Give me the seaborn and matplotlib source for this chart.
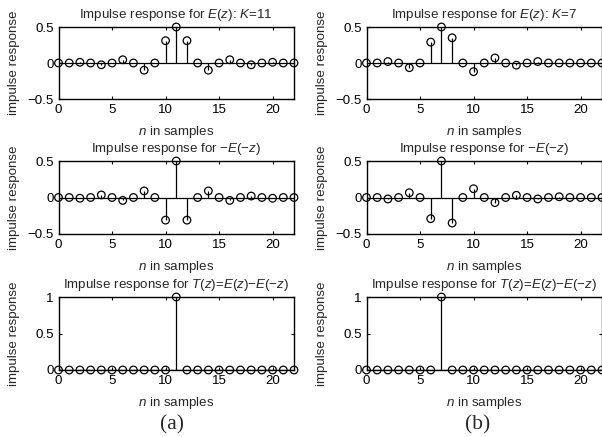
import numpy as np
import pandas as pd
import matplotlib
matplotlib.use("Agg")
import matplotlib.pyplot as plt
import seaborn as sns

# sample index
n = list(range(23))

# (a) K=11
e_a = [0, 0, 0.01, 0, -0.025, 0, 0.045, 0, -0.10, 0, 0.31, 0.5, 0.31,
       0, -0.10, 0, 0.045, 0, -0.025, 0, 0.01, 0, 0]
me_a = [0, 0, -0.01, 0, 0.035, 0, -0.04, 0, 0.09, 0, -0.31, 0.5, -0.31,
        0, 0.09, 0, -0.04, 0, 0.02, 0, -0.01, 0, 0]
t_a = [0, 0, 0, 0, 0, 0, 0, 0, 0, 0, 0, 1, 0, 0, 0, 0, 0, 0, 0, 0, 0, 0, 0]

# (b) K=7
e_b = [0, 0, 0.02, 0, -0.065, 0, 0.29, 0.5, 0.35, 0, -0.12, 0, 0.07,
       0, -0.03, 0, 0.02, 0, 0, 0, 0, 0, 0]
me_b = [0, 0, -0.02, 0, 0.065, 0, -0.29, 0.5, -0.35, 0, 0.12, 0, -0.07,
        0, 0.03, 0, -0.02, 0, 0.01, 0, 0, 0, 0]
t_b = [0, 0, 0, 0, 0, 0, 0, 1, 0, 0, 0, 0, 0, 0, 0, 0, 0, 0, 0, 0, 0, 0, 0]

titles_a = [r"Impulse response for $E$($z$): $K$=11",
            r"Impulse response for −$E$(−$z$)",
            r"Impulse response for $T$($z$)=$E$($z$)−$E$(−$z$)"]
titles_b = [r"Impulse response for $E$($z$): $K$=7",
            r"Impulse response for −$E$(−$z$)",
            r"Impulse response for $T$($z$)=$E$($z$)−$E$(−$z$)"]

sns.set_theme(style="ticks")
plt.rcParams["font.family"] = ["Liberation Sans", "DejaVu Sans"]
plt.rcParams["mathtext.fontset"] = "custom"
plt.rcParams["mathtext.rm"] = "Liberation Sans"
plt.rcParams["mathtext.it"] = "Liberation Sans:italic"
plt.rcParams["axes.unicode_minus"] = True

W, H = 602, 437
fig = plt.figure(figsize=(W / 100, H / 100), dpi=100)
fig.patch.set_facecolor("white")

FS = 9.6
lefts = [58.5, 366.5]
width = 235.5
rows = [(27, 99), (161, 234), (297, 370)]


def stem_panel(ax, values, title, third, hgt):
    df = pd.DataFrame({"n": n, "h": values})
    ax.axhline(0, color="black", lw=0.9, zorder=1)
    ax.vlines(df["n"], 0, df["h"], color="black", lw=0.9, zorder=2)
    sns.scatterplot(data=df, x="n", y="h", ax=ax, marker="o", s=30,
                    facecolor="none", edgecolor="black", linewidth=0.9,
                    zorder=3, clip_on=False, legend=False)
    ax.set_xlim(0, 22)
    ax.set_xticks([0, 5, 10, 15, 20])
    if third:
        ax.set_ylim(0, 1)
        ax.set_yticks([0, 0.5, 1])
        ax.set_yticklabels(["0", "0.5", "1"])
    else:
        ax.set_ylim(-0.5, 0.5)
        ax.set_yticks([-0.5, 0, 0.5])
        ax.set_yticklabels(["−0.5", "0", "0.5"])
    ax.tick_params(direction="in", top=True, right=True, length=2.5,
                   width=0.8, labelsize=FS, pad=3.5, colors="black")
    for sp in ax.spines.values():
        sp.set_linewidth(1.0)
        sp.set_color("black")
        sp.set_visible(True)
    ax.set_title(title, fontsize=FS, pad=6.5)
    ax.set_xlabel(r"$n$ in samples", fontsize=FS)
    ax.set_ylabel("impulse response", fontsize=FS)
    ax.xaxis.set_label_coords(0.5, -32.5 / hgt)
    ax.xaxis.label.set_verticalalignment("center")
    ax.yaxis.set_label_coords(-0.187, 0.5)
    ax.yaxis.label.set_verticalalignment("center")


cols = [(e_a, me_a, t_a, titles_a), (e_b, me_b, t_b, titles_b)]
for left, (e, me, t, titles) in zip(lefts, cols):
    for i, (vals, (top, bot)) in enumerate(zip([e, me, t], rows)):
        ax = fig.add_axes([left / W, 1 - bot / H, width / W, (bot - top) / H])
        stem_panel(ax, vals, titles[i], i == 2, bot - top)

fig.text(172 / W, 1 - 425 / H, "(a)", ha="center", va="center",
         fontsize=15.5, family="Liberation Serif")
fig.text(478 / W, 1 - 425 / H, "(b)", ha="center", va="center",
         fontsize=15.5, family="Liberation Serif")

fig.savefig("out.png", dpi=100)
